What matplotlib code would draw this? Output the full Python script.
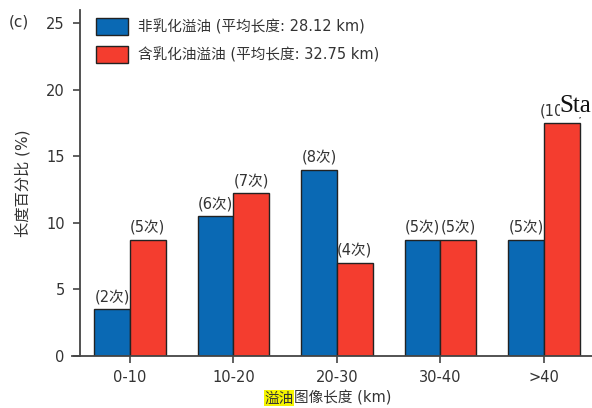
import numpy as np
import matplotlib.pyplot as plt

plt.rcParams['font.family'] = ['DejaVu Sans', 'Noto Sans CJK SC']

#length bins and share of total slick length (%)
bins = ['0-10', '10-20', '20-30', '30-40', '>40']
non_emul = [3.5, 10.5, 14.0, 8.75, 8.75]
emul = [8.75, 12.25, 7.0, 8.75, 17.5]
#number of slicks in each bin
non_emul_n = ['(2次)', '(6次)', '(8次)', '(5次)', '(5次)']
emul_n = ['(5次)', '(7次)', '(4次)', '(5次)', '(10次)']

blue = '#0a69b4'
red = '#f43d2f'
txt = '#333333'

fig = plt.figure(figsize=(5.92, 4.08), dpi=100)
ax = fig.add_axes([72/592, 52/408, 1 - 72/592, 346/408])

x = np.arange(len(bins))
w = 0.345
b1 = ax.bar(x - w/2, non_emul, w, color=blue, edgecolor='#222222', linewidth=1,
            label='非乳化溢油 (平均长度: 28.12 km)')
b2 = ax.bar(x + w/2, emul, w, color=red, edgecolor='#222222', linewidth=1,
            label='含乳化油溢油 (平均长度: 32.75 km)')

for bars, labs in [(b1, non_emul_n), (b2, emul_n)]:
    for r, lab in zip(bars, labs):
        ax.annotate(lab, (r.get_x() + r.get_width()/2, r.get_height()),
                    xytext=(0, 3.5), textcoords='offset points',
                    ha='center', va='bottom', fontsize=10.5, color=txt)

#stray text sitting over the last label
ax.text(4.15, 18.3, 'Sta', family='Liberation Serif', fontsize=18, color='#111111',
        ha='left', va='baseline',
        bbox=dict(facecolor='white', edgecolor='none', pad=0.0))

ax.set_xlim(-0.56, 4.464)
ax.set_ylim(0, 26)
ax.set_xticks(x)
ax.set_xticklabels(bins)
ax.set_yticks([0, 5, 10, 15, 20, 25])
ax.tick_params(axis='both', labelsize=10.5, length=5, width=1.2,
               colors='#444444', labelcolor=txt)
ax.tick_params(axis='x', pad=5)
ax.tick_params(axis='y', pad=6)

ax.spines['top'].set_visible(False)
ax.spines['right'].set_visible(False)
ax.spines['left'].set_position(('data', -0.483))
for s in ['left', 'bottom']:
    ax.spines[s].set_color('#444444')
    ax.spines[s].set_linewidth(1.3)

ax.set_ylabel('长度百分比 (%)', fontsize=11, color=txt, labelpad=11)

#x label with the first two characters highlighted
t1 = fig.text(264/592, 10/408, '溢油', fontsize=10.5, color=txt, ha='left', va='center',
              bbox=dict(facecolor='#f5f500', edgecolor='none', pad=0.3))
ax.annotate('图像长度 (km)', xy=(1, 0.5), xycoords=t1, xytext=(0.5, 0),
            textcoords='offset points', ha='left', va='center',
            fontsize=10.5, color=txt)

fig.text(9/592, 386/408, '(c)', fontsize=11, color=txt, ha='left', va='center')

ax.legend(loc='upper left', bbox_to_anchor=(0.02, 1.015), frameon=False,
          fontsize=10.5, handlelength=2.25, handleheight=1.4, labelspacing=0.8,
          handletextpad=0.65, labelcolor=txt)

fig.savefig('out.png', dpi=100)
